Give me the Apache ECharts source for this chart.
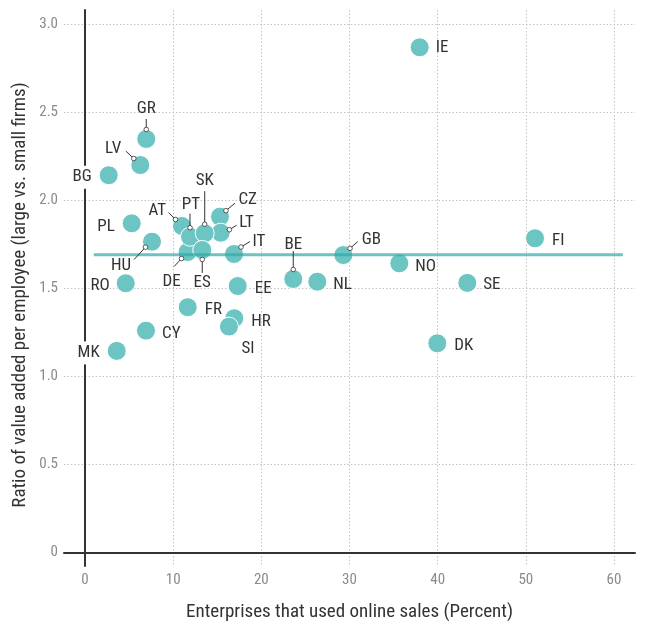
<!DOCTYPE html>
<html>
<head>
<meta charset="utf-8">
<script src="https://cdn.jsdelivr.net/npm/echarts@6/dist/echarts.min.js"></script>
<style>
html,body{margin:0;padding:0;background:#fff;}
#chart{width:649px;height:623px;}
</style>
</head>
<body>
<div id="chart"></div>
<script>
// ---- data ----
const countries = ['IE','FI','NO','NL','SE','DK','BE','GB','GR','LV','BG','PL','HU','AT','CZ','DE','PT','LT','SK','ES','IT','RO','EE','FR','HR','SI','CY','MK'];
const onlineSales = [37.96,51.04,35.65,26.35,43.36,39.96,23.62,29.30,6.95,6.27,2.69,5.30,7.60,11.00,15.31,11.63,11.91,15.39,13.58,13.30,16.90,4.62,17.32,11.65,16.93,16.33,6.92,3.60];
const valueRatio  = [2.867,1.783,1.641,1.537,1.530,1.187,1.552,1.688,2.347,2.199,2.141,1.868,1.764,1.853,1.906,1.705,1.792,1.815,1.812,1.717,1.694,1.528,1.512,1.392,1.329,1.282,1.259,1.144];
const refValue = 1.69;
const refRange = [1, 61];
const xTicks = [0,10,20,30,40,50,60];
const yTicks = [0,0.5,1.0,1.5,2.0,2.5,3.0];
const xTitle = 'Enterprises that used online sales (Percent)';
const yTitle = 'Ratio of value added per employee (large vs. small firms)';

// ---- label layout (pixel offsets from marker centre) ----
const labelLayout = {
  IE:{dx:16,dy:0,align:'left'},
  FI:{dx:17,dy:2,align:'left'},
  NO:{dx:16,dy:3,align:'left'},
  NL:{dx:16,dy:3,align:'left'},
  SE:{dx:16,dy:2,align:'left'},
  DK:{dx:17,dy:2,align:'left'},
  BE:{dx:0,dy:-34,align:'center',line:[0,-9.5,0,-28]},
  GB:{dx:18.5,dy:-15,align:'left',line:[6.7,-6.7,14.5,-13.5]},
  GR:{dx:0,dy:-30,align:'center',line:[0,-9.5,0,-20]},
  LV:{dx:-19,dy:-16,align:'right',line:[-6.5,-6.5,-14.5,-14]},
  BG:{dx:-16,dy:2,align:'right',bg:true},
  PL:{dx:-17,dy:3,align:'right'},
  HU:{dx:-21,dy:24,align:'right',line:[-6.5,5.5,-18,18]},
  AT:{dx:-16,dy:-15.5,align:'right',line:[-6.5,-6.5,-13.5,-13.5]},
  CZ:{dx:18.5,dy:-16.5,align:'left',line:[6,-6,15,-13.5]},
  DE:{dx:-16,dy:29.5,align:'center',line:[-6,6.5,-13.5,14.5]},
  PT:{dx:1,dy:-31.5,align:'center',line:[0,-9,0,-23]},
  LT:{dx:18.5,dy:-9.5,align:'left',line:[8.7,-3,16,-7.5]},
  SK:{dx:0,dy:-52,align:'center',line:[0,-9,0,-42]},
  ES:{dx:0,dy:33,align:'center',line:[0,9.5,0,23]},
  IT:{dx:18.5,dy:-12.5,align:'left',line:[7,-7,16,-12.5]},
  RO:{dx:-16,dy:3,align:'right'},
  EE:{dx:17,dy:3,align:'left'},
  FR:{dx:17,dy:3,align:'left'},
  HR:{dx:17,dy:3,align:'left'},
  SI:{dx:12.5,dy:22.5,align:'left'},
  CY:{dx:16,dy:3,align:'left'},
  MK:{dx:-16,dy:2,align:'right',bg:true}
};

const FONT = "'Roboto Condensed','Liberation Sans Narrow','Arial Narrow','DejaVu Sans Condensed',sans-serif";
const TEAL = '#6CC5C3';

const points = countries.map((c,i)=>[onlineSales[i], valueRatio[i], c]);

const chart = echarts.init(document.getElementById('chart'), null, {renderer:'canvas'});
chart.setOption({
  animation:false,
  backgroundColor:'#fff',
  grid:{left:64, right:14, top:10, bottom:57, containLabel:false, outerBoundsMode:'none'},
  graphic:[{
    type:'text', x:20.5, y:295, rotation:Math.PI/2, silent:true,
    style:{text:yTitle, align:'center', verticalAlign:'middle', fill:'#333', fontSize:19, fontFamily:FONT}
  }],
  xAxis:{
    type:'value', min:-2.38, max:62.38,
    axisLine:{show:true, onZero:true, lineStyle:{color:'#333', width:2}},
    axisTick:{show:false, customValues:xTicks},
    axisLabel:{customValues:xTicks, margin:7, color:'#8a8a8a', fontSize:15, fontFamily:FONT},
    splitLine:{show:true, lineStyle:{color:'#c4c4c4', width:1, type:[1.5,2]}},
    name:xTitle,
    nameLocation:'middle', nameGap:37,
    nameTextStyle:{color:'#333', fontSize:19, fontFamily:FONT}
  },
  yAxis:{
    type:'value', min:-0.077, max:3.079,
    axisLine:{show:true, onZero:true, lineStyle:{color:'#333', width:2}},
    axisTick:{show:false, customValues:yTicks},
    axisLabel:{customValues:yTicks, margin:6, color:'#8a8a8a', fontSize:15, fontFamily:FONT,
      formatter:v=> (Math.abs(v)<1e-9 ? '0' : v.toFixed(1))},
    splitLine:{show:true, lineStyle:{color:'#c4c4c4', width:1, type:[1.5,2]}}
  },
  series:[
    {
      type:'scatter', z:2,
      data:points,
      symbolSize:19,
      itemStyle:{color:TEAL, borderColor:'#fff', borderWidth:1, opacity:1},
      emphasis:{disabled:true}
    },
    {
      type:'line', z:3,
      data:[[refRange[0],refValue],[refRange[1],refValue]],
      showSymbol:false, symbol:'none',
      lineStyle:{color:'rgba(48,168,166,0.7)', width:3},
      silent:true
    },
    {
      type:'custom', z:4, clip:false, silent:true,
      data:points,
      renderItem:function(params, api){
        const i = params.dataIndex;
        const p = api.coord([api.value(0), api.value(1)]);
        const code = countries[i];
        const L = labelLayout[code];
        const children = [];
        if (L.line){
          children.push({type:'line', shape:{x1:p[0]+L.line[0], y1:p[1]+L.line[1], x2:p[0]+L.line[2], y2:p[1]+L.line[3]},
            style:{stroke:'#333', lineWidth:1}});
          children.push({type:'circle', shape:{cx:p[0]+L.line[0], cy:p[1]+L.line[1], r:2.3},
            style:{fill:'#fff', stroke:'#333', lineWidth:0.8}});
        }
        const st = {text:code, align:L.align, verticalAlign:'middle', fill:'#333', fontSize:17, fontFamily:FONT};
        if (L.bg){ st.backgroundColor = '#fff'; st.padding = [3,1]; }
        children.push({type:'text', x:p[0]+L.dx, y:p[1]+L.dy, style:st});
        return {type:'group', children:children};
      }
    }
  ]
});
</script>
</body>
</html>
